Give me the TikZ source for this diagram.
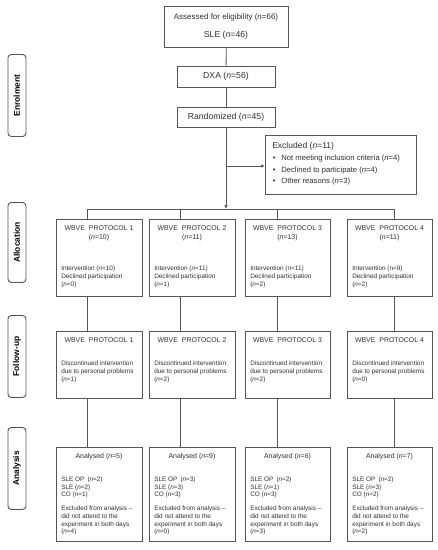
\documentclass[tikz,border=0pt]{standalone}
\usepackage{fontspec}
\setmainfont{Liberation Sans}
\usetikzlibrary{arrows.meta,calc}
\definecolor{linec}{HTML}{555555}
\definecolor{txtc}{HTML}{303030}
\newcommand\nit{\textit{n}}
\begin{document}
\begin{tikzpicture}[x=0.75pt,y=-0.75pt,
  box/.style={draw=linec, line width=0.6pt, inner sep=0pt, anchor=north west},
  cbox/.style={draw=linec, line width=0.6pt, inner sep=0pt, text=txtc, font=\fontsize{6.5}{7.5}\selectfont},
  lab/.style={draw=linec, line width=0.7pt, rounded corners=2.5pt, inner sep=0pt, anchor=north west, minimum width=13.5pt},
  labtxt/.style={rotate=90, text=black, font=\bfseries\fontsize{6.3}{7}\selectfont, inner sep=0pt},
  ttl/.style={align=center, text=txtc, inner sep=0pt, font=\fontsize{5.2}{6.75}\selectfont},
  body/.style={align=left, anchor=west, text=txtc, inner sep=0pt, font=\fontsize{4.8}{5.9}\selectfont},
  conn/.style={draw=linec, line width=0.6pt},
  arr/.style={conn, -{Latex[length=3pt,width=2.6pt]}}]
\useasboundingbox[fill=white] (0,0) rectangle (437,550);

% side labels
\node[lab, minimum height={82*0.75pt}] (lenr) at (7.5,54) {};
\node[labtxt] (tenr) at (lenr.center) {Enrolment};
\node[lab, minimum height={80*0.75pt}] (lall) at (7.5,202) {};
\node[labtxt] (tall) at (lall.center) {Allocation};
\node[lab, minimum height={82*0.75pt}] (lfol) at (7.5,315) {};
\node[labtxt] (tfol) at (lfol.center) {Follow-up};
\node[lab, minimum height={82*0.75pt}] (lana) at (7.5,427) {};
\node[labtxt] (tana) at (lana.center) {Analysis};

% enrolment column
\node[box, minimum width={124*0.75pt}, minimum height={41*0.75pt}] (top) at (164,6) {};
\node[ttl, font=\fontsize{6}{7}\selectfont] (topa) at (226,17) {Assessed for eligibility (\nit=66)};
\node[ttl, font=\fontsize{6.5}{7.5}\selectfont] (topb) at (226,35) {SLE (\nit=46)};
\node[cbox, minimum width={98*0.75pt}, minimum height={21*0.75pt}] (dxa) at (226,76.5) {DXA (\nit=56)};
\node[cbox, minimum width={98*0.75pt}, minimum height={20*0.75pt}] (rand) at (226,117) {Randomized (\nit=45)};
\node[box, minimum width={151*0.75pt}, minimum height={59*0.75pt}] (excl) at (265,135) {};
\node[body, font=\fontsize{5.75}{8.8}\selectfont] (exclt) at (272,164) {%
  {\fontsize{6.4}{8.8}\selectfont Excluded (\nit=11)}\\
  \hspace{0.5pt}\textbullet\hspace{4.3pt}Not meeting inclusion criteria (\nit=4)\\
  \hspace{0.5pt}\textbullet\hspace{4.3pt}Declined to participate (\nit=4)\\
  \hspace{0.5pt}\textbullet\hspace{4.3pt}Other reasons (\nit=3)};

\draw[conn] (top) -- (dxa);
\draw[conn] (dxa) -- (rand);
\coordinate (bar) at (226,209);
\coordinate (br) at (226,166);
\draw[arr] (rand) -- (bar);
\draw[arr] (br) -- (br -| excl.west);

\foreach \i/\lx/\rx/\vx/\na/\iv/\dc/\fu/\an/\op/\sle/\co/\ex in {
  1/56/142/87/10/\nit=10/0/1/5/2/2/1/4,
  2/149/235/180/11/\nit=11/1/2/9/3/3/3/0,
  3/245/330/277/13/n=11/2/2/6/2/1/3/3,
  4/347/432/394/11/n=9/2/0/7/2/3/2/2}{
  \coordinate (b\i) at (\vx,209);
  % allocation
  \node[box, minimum width={(\rx-\lx)*0.75pt}, minimum height={77*0.75pt}] (a\i) at (\lx,219) {};
  \node[ttl] (a\i t) at ({(\lx+\rx)/2},233.5) {WBVE\hspace{1.5pt} PROTOCOL \i\\(\nit=\na)};
  \node[body, font=\fontsize{4.8}{6}\selectfont] (a\i b) at (\lx+5,277) {Intervention (\iv)\\Declined participation\\(\nit=\dc)};
  % follow-up
  \node[box, minimum width={(\rx-\lx)*0.75pt}, minimum height={67*0.75pt}] (f\i) at (\lx,331) {};
  \node[ttl] (f\i t) at ({(\lx+\rx)/2},340) {WBVE\hspace{1.5pt} PROTOCOL \i};
  \node[body, font=\fontsize{4.8}{6}\selectfont] (f\i b) at (\lx+5,372) {Discontinued intervention\\due to personal problems\\(\nit=\fu)};
  % analysis
  \node[box, minimum width={(\rx-\lx)*0.75pt}, minimum height={94*0.75pt}] (n\i) at (\lx,447) {};
  \node[ttl] (n\i t) at ({(\lx+\rx)/2},457) {Analysed (\nit=\an)};
  \node[body, font=\fontsize{4.8}{5.6}\selectfont] (n\i b) at (\lx+5,487.5) {SLE OP\hspace{1pt} (\nit=\op)\\SLE (\nit=\sle)\\CO (\nit=\co)};
  \node[body, font=\fontsize{4.8}{5.8}\selectfont] (n\i c) at (\lx+5,520.5) {Excluded from analysis --\\did not attend to the\\experiment in both days\\(\nit=\ex)};
  % connectors
  \draw[conn] (b\i) -- (b\i |- a\i.north);
  \draw[conn] (b\i |- a\i.south) -- (b\i |- f\i.north);
  \draw[conn] (b\i |- f\i.south) -- (b\i |- n\i.north);
}
\draw[conn] (b1) -- (b4);
\end{tikzpicture}
\end{document}
